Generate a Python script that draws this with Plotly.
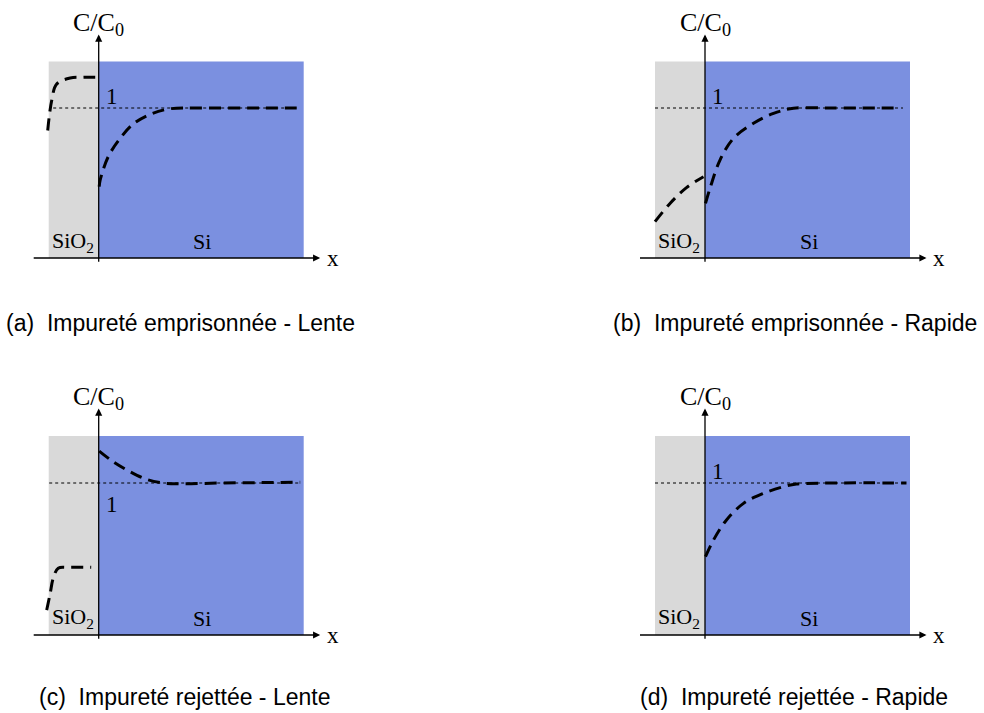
import plotly.graph_objects as go

W, H = 984, 713          # browser window
OFF = 0                  # body margin removed via post_script
FW, FH = W - 2 * OFF, H - 2 * OFF

# ---------------- data (axis units: x in layer units, y = C/C0) ----------------
a_oxide_x = [-1.02, -0.94, -0.84, -0.57, -0.30, -0.01]
a_oxide_y = [0.85, 1.05, 1.16, 1.20, 1.205, 1.205]
a_si_x = [0.01, 0.03, 0.19, 0.43, 0.69, 1.03, 1.43, 2.00, 3.00, 3.96]
a_si_y = [0.476, 0.52, 0.675, 0.798, 0.893, 0.958, 0.995, 1.0, 1.0, 1.0]

b_oxide_x = [-1.00, -0.70, -0.37, -0.03]
b_oxide_y = [0.242, 0.364, 0.469, 0.542]
b_si_x = [0.01, 0.10, 0.30, 0.57, 0.97, 1.37, 1.77, 2.50, 3.90]
b_si_y = [0.364, 0.464, 0.653, 0.798, 0.898, 0.964, 0.998, 1.0, 1.0]

c_oxide_x = [-1.04, -0.97, -0.91, -0.81, -0.64, -0.15]
c_oxide_y = [0.164, 0.274, 0.373, 0.439, 0.445, 0.445]
c_si_x = [0.01, 0.29, 0.63, 0.96, 1.29, 1.63, 2.50, 4.03]
c_si_y = [1.21, 1.14, 1.074, 1.024, 1.0, 0.995, 1.0, 1.005]

d_si_x = [0.01, 0.17, 0.43, 0.77, 1.17, 1.57, 1.83, 2.60, 4.03]
d_si_y = [0.515, 0.625, 0.757, 0.866, 0.932, 0.976, 0.993, 1.0, 1.0]

captions = [
    "(a)  Impureté emprisonnée - Lente",
    "(b)  Impureté emprisonnée - Rapide",
    "(c)  Impureté rejettée - Lente",
    "(d)  Impureté rejettée - Rapide",
]
region_labels = ["SiO<sub>2</sub>", "Si"]
y_label = "C/C<sub>0</sub>"
x_label = "x"
level_label = "1"

# ---------------- layout geometry (screen pixels) ----------------
GRAY = "#D9D9D9"
BLUE = "#7B90E0"
SX = 50.0
panels = [
    dict(ox=98.7, oy=258, sy=150, L=20, R=345, T=2, B=285,
         curves=[(a_oxide_x, a_oxide_y), (a_si_x, a_si_y)], one_below=False,
         dot=(-0.91, 3.99), cap=(180, 323)),
    dict(ox=705, oy=258, sy=150, L=620, R=960, T=2, B=285,
         curves=[(b_oxide_x, b_oxide_y), (b_si_x, b_si_y)], one_below=False,
         dot=(-1.0, 3.96), cap=(795, 323)),
    dict(ox=98.7, oy=635, sy=152, L=20, R=345, T=380, B=660,
         curves=[(c_oxide_x, c_oxide_y), (c_si_x, c_si_y)], one_below=True,
         dot=(-0.99, 4.03), cap=(184, 697)),
    dict(ox=705, oy=635, sy=152, L=620, R=960, T=380, B=660,
         curves=[(d_si_x, d_si_y)], one_below=False,
         dot=(-1.0, 4.03), cap=(794, 697)),
]

fig = go.Figure()
shapes, annotations = [], []
serif = dict(family="Liberation Serif, Times New Roman, serif", color="black")

for i, p in enumerate(panels):
    n = "" if i == 0 else str(i + 1)
    xa, ya = "x" + n, "y" + n
    xr = [(p["L"] - p["ox"]) / SX, (p["R"] - p["ox"]) / SX]
    yr = [(p["oy"] - p["B"]) / p["sy"], (p["oy"] - p["T"]) / p["sy"]]
    fig.layout["xaxis" + n] = dict(domain=[(p["L"] - OFF) / FW, (p["R"] - OFF) / FW], range=xr,
                                   visible=False, anchor=ya, fixedrange=True)
    fig.layout["yaxis" + n] = dict(domain=[(FH - (p["B"] - OFF)) / FH, (FH - (p["T"] - OFF)) / FH],
                                   range=yr, visible=False, anchor=xa, fixedrange=True)

    top = 1.31
    shapes.append(dict(type="rect", xref=xa, yref=ya, x0=-1.0, x1=0, y0=0, y1=top,
                       fillcolor=GRAY, line_width=0, layer="below"))
    shapes.append(dict(type="rect", xref=xa, yref=ya, x0=0, x1=4.1, y0=0, y1=top,
                       fillcolor=BLUE, line_width=0, layer="below"))
    shapes.append(dict(type="line", xref=xa, yref=ya, x0=p["dot"][0], x1=p["dot"][1], y0=1, y1=1,
                       line=dict(color="black", width=1, dash="3px,3px"), layer="below"))

    # axes arrows
    annotations.append(dict(xref=xa, yref=ya, axref=xa, ayref=ya, x=4.43, y=0, ax=-1.33, ay=0,
                            text="", showarrow=True, arrowhead=2, arrowsize=1.1, arrowwidth=1.3,
                            arrowcolor="black"))
    annotations.append(dict(xref=xa, yref=ya, axref=xa, ayref=ya, x=0, y=1.49, ax=0, ay=-0.035,
                            text="", showarrow=True, arrowhead=2, arrowsize=1.1, arrowwidth=1.3,
                            arrowcolor="black"))
    # labels
    annotations.append(dict(xref=xa, yref=ya, x=0, y=1.49, yanchor="bottom", yshift=-7,
                            text=y_label, showarrow=False, font=dict(size=26, **serif)))
    annotations.append(dict(xref=xa, yref=ya, x=4.52, y=0, xanchor="left", yanchor="middle",
                            text=x_label, showarrow=False, font=dict(size=23, **serif)))
    annotations.append(dict(xref=xa, yref=ya, x=0.1, y=(0.86 if p["one_below"] else 1.075),
                            xanchor="left", yanchor="middle",
                            text=level_label, showarrow=False, font=dict(size=23, **serif)))
    annotations.append(dict(xref=xa, yref=ya, x=-0.52, y=0.11, text=region_labels[0],
                            showarrow=False, font=dict(size=22, **serif)))
    annotations.append(dict(xref=xa, yref=ya, x=2.07, y=0.11, text=region_labels[1],
                            showarrow=False, font=dict(size=22, **serif)))
    # caption
    annotations.append(dict(xref="paper", yref="paper", x=(p["cap"][0] - OFF) / FW,
                            y=(FH - (p["cap"][1] - OFF)) / FH,
                            xanchor="center", yanchor="middle", text=captions[i], showarrow=False,
                            font=dict(family="Liberation Sans, Arial, Helvetica, sans-serif",
                                      size=23, color="black")))

    for cx, cy in p["curves"]:
        fig.add_trace(go.Scatter(x=cx, y=cy, xaxis=xa, yaxis=ya, mode="lines",
                                 line=dict(color="black", width=3, dash="12px,7px", shape="spline",
                                           smoothing=1.0),
                                 hoverinfo="skip", showlegend=False, cliponaxis=False))

fig.update_layout(width=FW, height=FH, margin=dict(l=0, r=0, t=0, b=0),
                  paper_bgcolor="white", plot_bgcolor="rgba(0,0,0,0)",
                  shapes=shapes, annotations=annotations, showlegend=False)

fig.write_html("out.html", config={"displayModeBar": False},
               post_script="document.body.style.margin='0';document.body.style.overflow='hidden';")
